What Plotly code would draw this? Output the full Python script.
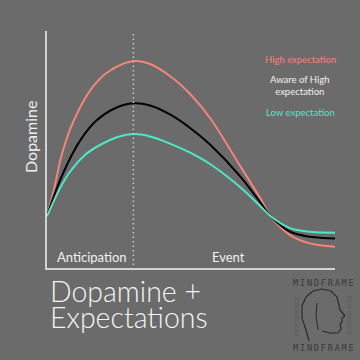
import plotly.graph_objects as go

# ---- data ----
high_x = [0.0, 0.25, 0.51, 0.91, 1.55, 2.13, 3.00, 3.58, 4.27, 4.97, 5.66, 6.70, 7.40, 7.78, 8.44, 9.13, 10.0]
high_y = [2.18, 3.36, 4.77, 6.17, 7.58, 8.28, 8.73, 8.61, 8.10, 7.34, 6.33, 4.32, 2.95, 2.17, 1.39, 1.04, 0.90]

aware_x = [0.0, 0.34, 0.86, 1.20, 1.67, 2.36, 3.00, 3.58, 4.27, 4.97, 5.66, 6.70, 7.40, 7.78, 8.44, 9.13, 10.0]
aware_y = [2.18, 3.36, 4.77, 5.47, 6.17, 6.74, 6.95, 6.86, 6.48, 5.91, 5.21, 3.88, 2.78, 2.17, 1.53, 1.32, 1.25]

low_x = [0.0, 0.45, 0.80, 1.32, 1.84, 2.48, 3.00, 3.58, 4.27, 4.97, 5.66, 6.70, 7.40, 7.78, 8.44, 9.13, 10.0]
low_y = [2.18, 3.36, 4.06, 4.77, 5.19, 5.54, 5.65, 5.55, 5.25, 4.87, 4.39, 3.42, 2.62, 2.17, 1.68, 1.53, 1.49]

series_names = ["High expectation", "Aware of High<br>expectation", "Low expectation"]
series_colors = ["#f4847c", "#000000", "#4ee8c8"]

peak_x = 3.0
phase_labels = ["Anticipation", "Event"]
phase_label_x = [1.55, 6.3]

BG = "#6b6b6b"
AX = "#d2d2d2"
FONT = "Lato"

fig = go.Figure()
for xs, ys, c in [(high_x, high_y, series_colors[0]),
                  (aware_x, aware_y, series_colors[1]),
                  (low_x, low_y, series_colors[2])]:
    fig.add_trace(go.Scatter(x=xs, y=ys, mode="lines",
                             line=dict(color=c, width=2, shape="spline", smoothing=1.0),
                             hoverinfo="skip", showlegend=False))

# dotted divider
fig.add_shape(type="line", x0=peak_x, x1=peak_x, y0=0.13, y1=9.95, xref="x", yref="y",
              line=dict(color="#c8c8c8", width=1.5, dash="1.5px,3px"))

# legend texts
leg_y = [8.8, 7.7, 6.58]
for name, c, yy in zip(series_names, series_colors, leg_y):
    fig.add_annotation(x=8.8, y=yy, xref="x", yref="y", text=name, showarrow=False,
                       xanchor="center", yanchor="middle",
                       font=dict(family=FONT, size=9.5, color=c if c != "#000000" else "#f0f0f0"),
                       align="center")

# phase labels
for t, xx in zip(phase_labels, phase_label_x):
    fig.add_annotation(x=xx, y=0.45, xref="x", yref="y", text=t, showarrow=False,
                       xanchor="center", yanchor="middle",
                       font=dict(family=FONT, size=13, color="#f0f0f0"))

def px2paper(px, py):
    return (px - 47) / 288, (268 - py) / 237

# y title
fx, fy = px2paper(30, 137)
fig.add_annotation(x=fx, y=fy, xref="paper", yref="paper", text="Dopamine",
                   textangle=-90, showarrow=False, xanchor="center", yanchor="middle",
                   font=dict(family=FONT, size=16, color="#f0f0f0"))

# big title (two lines)
for t, yy in [("Dopamine +", 291), ("Expectations", 317)]:
    fx, fy = px2paper(48, yy)
    fig.add_annotation(x=fx, y=fy, xref="paper", yref="paper",
                       xanchor="left", yanchor="middle", text=t, showarrow=False,
                       font=dict(family=FONT, size=28.5, color="#f4f4f4", weight=300))

# ---- logo (decorative) ----
LOGO = "#3a3a3a"
gap = "<span style='font-size:3px'> </span>"
logo_text = gap.join(list("MINDFRAME"))
for yy in [283, 348]:
    fx, fy = px2paper(323.5, yy)
    fig.add_annotation(x=fx, y=fy, xref="paper", yref="paper",
                       xanchor="center", yanchor="middle",
                       text=logo_text, showarrow=False,
                       font=dict(family="DejaVu Sans Mono", size=8.5, color=LOGO))
for xx, ang in [(296, -90), (350, 90)]:
    fx, fy = px2paper(xx, 316)
    fig.add_annotation(x=fx, y=fy, xref="paper", yref="paper",
                       xanchor="center", yanchor="middle",
                       text="PERFORMANCE", textangle=ang, showarrow=False,
                       font=dict(family="DejaVu Sans Mono", size=6, color="#5e5e5e"))

head = [(309, 341), (306, 330), (302, 318), (302, 306), (306, 297), (313, 291), (322, 289),
        (331, 291), (337, 297), (339, 305), (340, 310), (345, 316), (342, 318), (342, 322),
        (340, 324), (341, 329), (338, 333), (330, 333), (322, 331)]
pts = [px2paper(a, b) for a, b in head]
fig.add_shape(type="path", path="M " + " L ".join(f"{x:.4f},{y:.4f}" for x, y in pts),
              xref="paper", yref="paper", line=dict(color="#2a2a2a", width=1.2))
inner = [(317, 303), (316, 315), (318, 330)]
pts2 = [px2paper(a, b) for a, b in inner]
fig.add_shape(type="path", path="M " + " L ".join(f"{x:.4f},{y:.4f}" for x, y in pts2),
              xref="paper", yref="paper", line=dict(color="#2a2a2a", width=1))

fig.update_xaxes(range=[0, 10], showgrid=False, zeroline=False, showticklabels=False,
                 ticks="", showline=True, linecolor=AX, linewidth=1.5)
fig.update_yaxes(range=[0, 10], showgrid=False, zeroline=False, showticklabels=False,
                 ticks="", showline=True, linecolor=AX, linewidth=1.5)

fig.update_layout(width=360, height=360, margin=dict(l=47, r=25, t=31, b=92),
                  paper_bgcolor=BG, plot_bgcolor=BG, showlegend=False)

fig.write_html("out.html", config={"displayModeBar": False},
               post_script="document.body.style.margin='0';document.body.style.background='%s';" % BG)
